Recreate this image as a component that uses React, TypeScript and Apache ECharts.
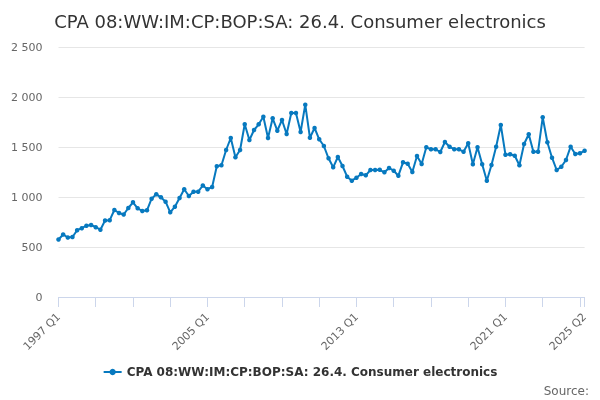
import React, { useEffect, useRef } from "react";
import * as echarts from "echarts";

const TITLE = "CPA 08:WW:IM:CP:BOP:SA: 26.4. Consumer electronics";
const START_YEAR = 1997;
const VALUES: number[] = [
  575, 625, 595, 600, 668, 688, 713, 720, 698, 673,
  765, 768, 870, 840, 825, 890, 947, 887, 860, 867,
  983, 1027, 997, 953, 847, 903, 990, 1077, 1010, 1053,
  1053, 1115, 1078, 1100, 1308, 1317, 1470, 1590, 1397, 1470,
  1727, 1570, 1670, 1727, 1803, 1590, 1787, 1663, 1770, 1630,
  1840, 1840, 1650, 1923, 1593, 1690, 1577, 1510, 1387, 1297,
  1400, 1310, 1203, 1163, 1193, 1230, 1217, 1270, 1270, 1272,
  1247, 1290, 1263, 1213, 1347, 1333, 1250, 1410, 1330, 1497,
  1477, 1477, 1450, 1550, 1503, 1477, 1477, 1453, 1537, 1327,
  1497, 1327, 1163, 1320, 1503, 1720, 1423, 1427, 1413, 1317,
  1530, 1627, 1453, 1453, 1797, 1547, 1393, 1270, 1303, 1370,
  1503, 1430, 1437, 1463,
];
const CATEGORIES: string[] = VALUES.map(
  (_, i) => `${START_YEAR + Math.floor(i / 4)} Q${(i % 4) + 1}`
);
const Y_TICKS = [0, 500, 1000, 1500, 2000, 2500];

const fmt = (v: number) =>
  String(v).replace(/\B(?=(\d{3})+(?!\d))/g, " ");

export default function App() {
  const ref = useRef<HTMLDivElement>(null);
  useEffect(() => {
    if (!ref.current) return;
    const chart = echarts.init(ref.current, undefined, { renderer: "svg" });
    const last = CATEGORIES.length - 1;
    chart.setOption({
      animation: false,
      textStyle: { fontFamily: "DejaVu Sans" },
      title: {
        text: TITLE,
        left: "center",
        top: 7,
        textStyle: { fontSize: 18, fontWeight: "normal", color: "#333333", fontFamily: "DejaVu Sans" },
      },
      legend: {
        bottom: 17,
        left: "center",
        itemWidth: 18,
        itemHeight: 8,
        textStyle: { fontSize: 12, fontWeight: "bold", color: "#333333", fontFamily: "DejaVu Sans" },
      },
      graphic: [
        {
          type: "text",
          right: 11,
          bottom: 3,
          style: { text: "Source:", fontSize: 12, fill: "#666666", fontFamily: "DejaVu Sans" },
        },
      ],
      grid: { left: 58.5, right: 15.4, top: 47, bottom: 103 },
      xAxis: {
        type: "category",
        data: CATEGORIES,
        boundaryGap: false,
        axisLine: { lineStyle: { color: "#ccd6eb" } },
        axisTick: {
          length: 10,
          interval: (i: number) => i % 8 === 0 || i === last,
          lineStyle: { color: "#ccd6eb" },
        },
        axisLabel: {
          interval: (i: number) => i % 32 === 0 || i === last,
          rotate: 45,
          color: "#666666",
          fontSize: 11,
          margin: 18,
          fontFamily: "DejaVu Sans",
        },
      },
      yAxis: {
        type: "value",
        min: Y_TICKS[0],
        max: Y_TICKS[Y_TICKS.length - 1],
        interval: 500,
        axisLine: { show: false },
        axisTick: { show: false },
        splitLine: { lineStyle: { color: "#e6e6e6" } },
        axisLabel: {
          color: "#666666",
          fontSize: 11,
          margin: 16,
          fontFamily: "DejaVu Sans",
          formatter: (v: number) => fmt(v),
        },
      },
      series: [
        {
          name: TITLE,
          type: "line",
          data: VALUES,
          symbol: "circle",
          symbolSize: 4.5,
          showSymbol: true,
          showAllSymbol: true,
          lineStyle: { width: 2, color: "#0779bf" },
          itemStyle: { color: "#0779bf" },
        },
      ],
    });
    return () => chart.dispose();
  }, []);
  return (
    <div
      ref={ref}
      style={{ position: "fixed", left: 0, top: 0, width: 600, height: 400 }}
    />
  );
}
